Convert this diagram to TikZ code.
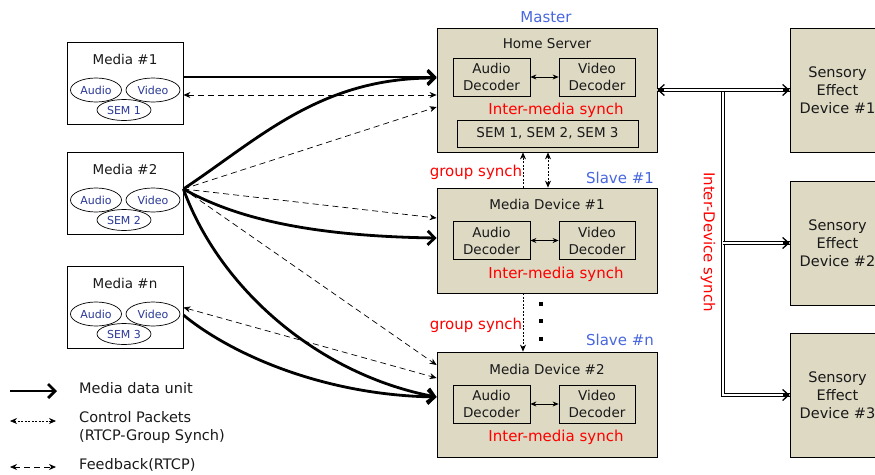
\documentclass[tikz,border=0pt]{standalone}
\usepackage{fontspec}
\setmainfont{DejaVu Sans}
\usepackage{xcolor}
\usetikzlibrary{calc, arrows.meta, shapes.geometric}

\definecolor{boxfill}{RGB}{221,217,195}
\definecolor{roleblue}{RGB}{72,102,222}
\definecolor{streamblue}{RGB}{40,55,150}
\definecolor{inktext}{RGB}{25,25,25}

\begin{document}
\begin{tikzpicture}[x=1pt, y=-1pt, >={Stealth[length=7pt, width=6pt]},
		mediabox/.style = {draw, line width=0.8pt, minimum width=116pt, minimum height=82pt, inner sep=0pt},
		stream/.style = {draw, ellipse, line width=0.7pt, inner sep=0pt, minimum height=24pt, text=streamblue, font=\fontsize{11}{12}\selectfont},
		bigbox/.style = {draw, fill=boxfill, line width=0.8pt, minimum width=220pt, inner sep=0pt},
		decoder/.style = {draw, fill=boxfill, line width=0.8pt, minimum height=38pt, inner sep=0pt, align=center, text=inktext, font=\fontsize{13.5}{17}\selectfont},
		sebox/.style = {draw, fill=boxfill, line width=0.8pt, minimum width=95pt, minimum height=124pt, inner sep=0pt},
		boxtitle/.style = {inner sep=0pt, text=inktext, font=\fontsize{13.5}{16}\selectfont},
		synchtext/.style = {inner sep=0pt, text=red, font=\fontsize{15}{17}\selectfont},
		roletext/.style = {inner sep=0pt, text=roleblue, font=\fontsize{15}{17}\selectfont},
		legtext/.style = {inner sep=0pt, anchor=west, align=left, text=inktext, font=\fontsize{14.5}{18}\selectfont},
		media/.style = {line width=2.8pt, -{Straight Barb[length=7pt, width=14pt, line width=2.8pt]}},
		feedback/.style = {line width=0.7pt, dash pattern=on 6pt off 4pt},
		control/.style = {line width=0.7pt, dash pattern=on 2pt off 1.5pt},
		bus/.style = {draw, line width=0.8pt, double=white, double distance=2pt},
		bustip/.style = {line width=1.3pt, -{Straight Barb[length=6pt, width=11pt, line width=1.3pt]}}
	]
	\useasboundingbox (0,0) rectangle (875,474);
	\clip (0,0) rectangle (875,474);

	\def\boxX{547};
	\def\seX{837.5};

	\begin{scope}
		\node[mediabox] (m1) at (125,83) {};
		\node[mediabox] (m2) at (125,193) {};
		\node[mediabox] (mn) at (125,307.5) {};

		\node[boxtitle] (m1t) at (125,59) {Media \#1};
		\node[boxtitle] (m2t) at (125,169) {Media \#2};
		\node[boxtitle] (mnt) at (125,283) {Media \#n};

		\foreach \m/\y/\s in {m1/90/1, m2/200/2, mn/314/3} {
			\node[stream, minimum width=51pt] (\m a) at (96,\y) {Audio};
			\node[stream, minimum width=54pt] (\m v) at (153,\y) {Video};
			\node[stream, minimum width=54pt, minimum height=21pt] (\m s) at (124,\y+20) {SEM \s};
		}
	\end{scope}

	\begin{scope}
		\node[bigbox, minimum height=124pt] (hs) at (\boxX,90) {};
		\node[bigbox, minimum height=105pt] (md1) at (\boxX,240.5) {};
		\node[bigbox, minimum height=105pt] (md2) at (\boxX,404.5) {};

		\node[boxtitle] (hst) at (\boxX,44) {Home Server};
		\node[boxtitle] (md1t) at (\boxX,204) {Media Device \#1};
		\node[boxtitle] (md2t) at (\boxX,369) {Media Device \#2};

		\node[roletext] (master) at (546,17) {Master};
		\node[roletext] (slave1) at (620,178) {Slave \#1};
		\node[roletext] (slaven) at (620,340) {Slave \#n};

		\foreach \b/\y/\t in {hs/77/110, md1/240.5/274, md2/404/437} {
			\node[decoder, minimum width=77pt] (\b ad) at (491.5,\y) {Audio\\Decoder};
			\node[decoder, minimum width=76pt] (\b vd) at (597,\y) {Video\\Decoder};
			\draw[line width=0.7pt, {Stealth[length=6pt, width=5pt]}-{Stealth[length=6pt, width=5pt]}] (\b ad) -- (\b vd);
			\node[synchtext] (\b im) at (556,\t) {Inter-media synch};
		}

		\node[decoder, minimum width=181pt, minimum height=27pt] (sem) at (547.5,133.5) {SEM 1, SEM 2, SEM 3};
	\end{scope}

	\begin{scope}
		\node[sebox] (se1) at (\seX,90) {};
		\node[sebox] (se2) at (\seX,243) {};
		\node[sebox] (se3) at (\seX,395) {};

		\foreach \n in {1,2,3}
			\node[boxtitle, align=center, font=\fontsize{14.5}{18}\selectfont] (se\n t) at (se\n) {Sensory\\Effect\\Device \#\n};

		\coordinate (bustop) at (723,90);
		\coordinate (busmid) at (723,243);

		\draw[bus] (bustop) |- (se3.west);
		\draw[bus] (busmid) -- (se2.west);
		\draw[bus] (hs.east) -- (se1.west);
		\foreach \t in {se1.west, se2.west, se3.west}
			\draw[bustip] ($(\t)+(-6.5,0)$) -- (\t);
		\draw[bustip] ($(hs.east)+(6.5,0)$) -- (hs.east);

		\node[synchtext, rotate=-90] (ids) at (708,242) {Inter-Device synch};
	\end{scope}

	\begin{scope}
		\coordinate (m1o) at ($(m1.east)+(0,-6)$);
		\coordinate (m1f) at ($(m1.east)+(0,12)$);
		\coordinate (m2o) at ($(m2.east)+(0,-4)$);
		\coordinate (mno) at ($(mn.east)+(0,7.5)$);

		\draw[media] (m1o) -- ($(hs.west)+(0,-13)$);
		\draw[feedback, <->] (m1f) -- ($(hs.west)+(0,5)$);

		\draw[media] (m2o) .. controls (260,138) and (320,78) .. ($(hs.west)+(0,-12)$);
		\draw[feedback, ->] (m2o) -- ($(hs.west)+(0,17)$);
		\draw[feedback, ->] (m2o) -- ($(md1.west)+(0,-22.5)$);
		\draw[media] (m2o) .. controls (230,215) and (300,236) .. ($(md1.west)+(0,-2.5)$);
		\draw[feedback, ->] (m2o) -- ($(md2.west)+(0,-39.5)$);
		\draw[media] (m2o) .. controls (220,290) and (320,375) .. ($(md2.west)+(0,-7.5)$);

		\draw[feedback, <->] (mn.east) -- ($(md2.west)+(0,-26.5)$);
		\draw[media] (mno) .. controls (228,352) and (320,395) .. ($(md2.west)+(0,-7.5)$);
	\end{scope}

	\begin{scope}
		\draw[control, ->] ($(md1.north)+(-24,0)$) -- ($(hs.south)+(-24,0)$);
		\draw[control, <->] ($(md1.north)+(1,0)$) -- ($(hs.south)+(1,0)$);
		\draw[control, ->] ($(md1.south)+(-24,0)$) -- ($(md2.north)+(-24,0)$);

		\foreach \y [count=\i] in {304,321,339}
			\node[fill, inner sep=0pt, minimum size=4pt] (dot\i) at (541,\y) {};

		\node[synchtext] (gs1) at (476,172) {group synch};
		\node[synchtext] (gs2) at (476,325) {group synch};
	\end{scope}

	\begin{scope}
		\coordinate (lg1a) at (10,391);
		\coordinate (lg1b) at (57,391);
		\coordinate (lg2a) at (10,421);
		\coordinate (lg2b) at (56,421);
		\coordinate (lg3a) at (10,467);
		\coordinate (lg3b) at (56,467);

		\draw[media] (lg1a) -- (lg1b);
		\draw[control, <->] (lg2a) -- (lg2b);
		\draw[feedback, <->] (lg3a) -- (lg3b);

		\node[legtext] (lg1) at (79,388) {Media data unit};
		\node[legtext] (lg2) at (79,427) {Control Packets\\(RTCP-Group Synch)};
		\node[legtext] (lg3) at (79,465) {Feedback(RTCP)};
	\end{scope}
\end{tikzpicture}
\end{document}
